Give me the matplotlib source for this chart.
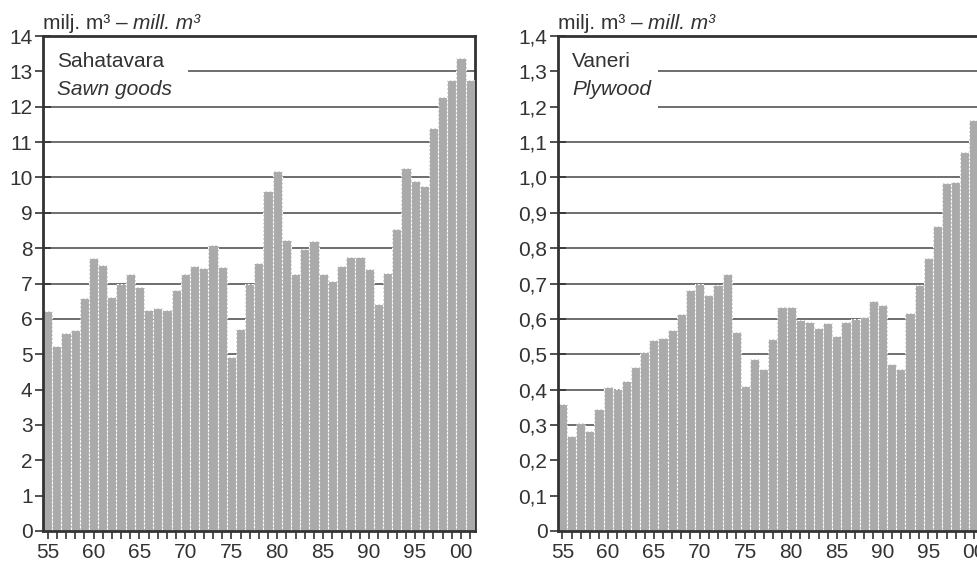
import numpy as np
import matplotlib.pyplot as plt
from matplotlib.patches import Rectangle

plt.rcParams['font.family'] = ['Liberation Sans', 'DejaVu Sans']

years = list(range(1955, 2002))
year_labels = ['55', '60', '65', '70', '75', '80', '85', '90', '95', '00']

# million m3
sawn_goods = [6.22, 5.24, 5.61, 5.68, 6.60, 7.72, 7.52, 6.63, 7.00, 7.27,
              6.90, 6.25, 6.30, 6.25, 6.82, 7.27, 7.50, 7.45, 8.10, 7.47,
              4.91, 5.72, 6.98, 7.57, 9.62, 10.19, 8.23, 7.27, 7.99, 8.21,
              7.27, 7.07, 7.50, 7.76, 7.76, 7.40, 6.42, 7.29, 8.55, 10.26,
              9.91, 9.76, 11.41, 12.28, 12.75, 13.39, 12.75]

plywood = [0.360, 0.270, 0.306, 0.283, 0.344, 0.408, 0.402, 0.425, 0.463, 0.507,
           0.540, 0.545, 0.569, 0.614, 0.682, 0.700, 0.667, 0.696, 0.726, 0.564,
           0.410, 0.486, 0.459, 0.543, 0.634, 0.634, 0.597, 0.591, 0.575, 0.587,
           0.552, 0.592, 0.601, 0.604, 0.650, 0.639, 0.471, 0.457, 0.616, 0.696,
           0.773, 0.863, 0.985, 0.988, 1.071, 1.162, 1.134]

left_ticks = [str(v) for v in range(0, 15)]
right_ticks = ['0'] + ['%.1f' % (v / 10) for v in range(1, 15)]
right_ticks = [t.replace('.', ',') for t in right_ticks]

BAR = '#aaaaaa'
DARK = '#333333'
FS = 15


def draw_panel(ax, values, ymax, ystep, ylabels, title, subtitle, box_w, box_y0):
    ax.bar(years, values, width=1.0, color=BAR, edgecolor='white',
           linewidth=0.8, linestyle=(0, (2, 1.5)), zorder=2)
    ax.set_xlim(1954.5, 2001.5)
    ax.set_ylim(0, ymax)

    yt = np.arange(0, len(ylabels)) * ystep
    ax.set_yticks(yt)
    ax.set_yticklabels(ylabels, fontsize=FS, color=DARK)
    ax.set_xticks(years, minor=True)
    ax.set_xticks(list(range(1955, 2001, 5)))
    ax.set_xticklabels(year_labels, fontsize=FS, color=DARK)

    ax.tick_params(axis='y', direction='inout', length=11, width=1.2,
                   color=DARK, pad=2)
    ax.tick_params(axis='x', which='both', direction='out', length=6,
                   width=1.2, color=DARK, pad=3)

    ax.set_axisbelow(True)
    ax.grid(axis='y', color='#555555', linewidth=1.2, zorder=0)
    for side in ['left', 'top', 'bottom', 'right']:
        ax.spines[side].set_color(DARK)
        ax.spines[side].set_linewidth(2.0)
    ax.spines['right'].set_zorder(1)

    # white patch behind the panel title that hides the gridlines
    ax.add_patch(Rectangle((0, box_y0), box_w, 0.99 - box_y0,
                           transform=ax.transAxes, facecolor='white',
                           edgecolor='none', zorder=1.5))
    ax.text(0.033, 0.968, title, transform=ax.transAxes, fontsize=FS,
            color=DARK, va='top', ha='left', zorder=5)
    ax.text(0.033, 0.912, subtitle, transform=ax.transAxes, fontsize=FS,
            color=DARK, va='top', ha='left', style='italic', zorder=5)

    t1 = ax.text(0.0, 1.006, 'milj. m\u00b3 \u2013', transform=ax.transAxes,
                 fontsize=FS, color=DARK, va='bottom', ha='left')
    ax.annotate('mill. m\u00b3', xy=(1, 0), xycoords=t1, xytext=(4, 0),
                textcoords='offset points', va='bottom', ha='left',
                fontsize=FS, color=DARK, style='italic')


fig = plt.figure(figsize=(9.77, 5.65), dpi=100)
ax1 = fig.add_axes([0.044, 0.0602, 0.442, 0.876])
ax2 = fig.add_axes([0.571, 0.0602, 0.440, 0.876])

draw_panel(ax1, sawn_goods, 14, 1, left_ticks, 'Sahatavara', 'Sawn goods',
           0.335, 0.89)
draw_panel(ax2, plywood, 1.4, 0.1, right_ticks, 'Vaneri', 'Plywood',
           0.232, 0.83)

fig.savefig('out.png', dpi=100)
